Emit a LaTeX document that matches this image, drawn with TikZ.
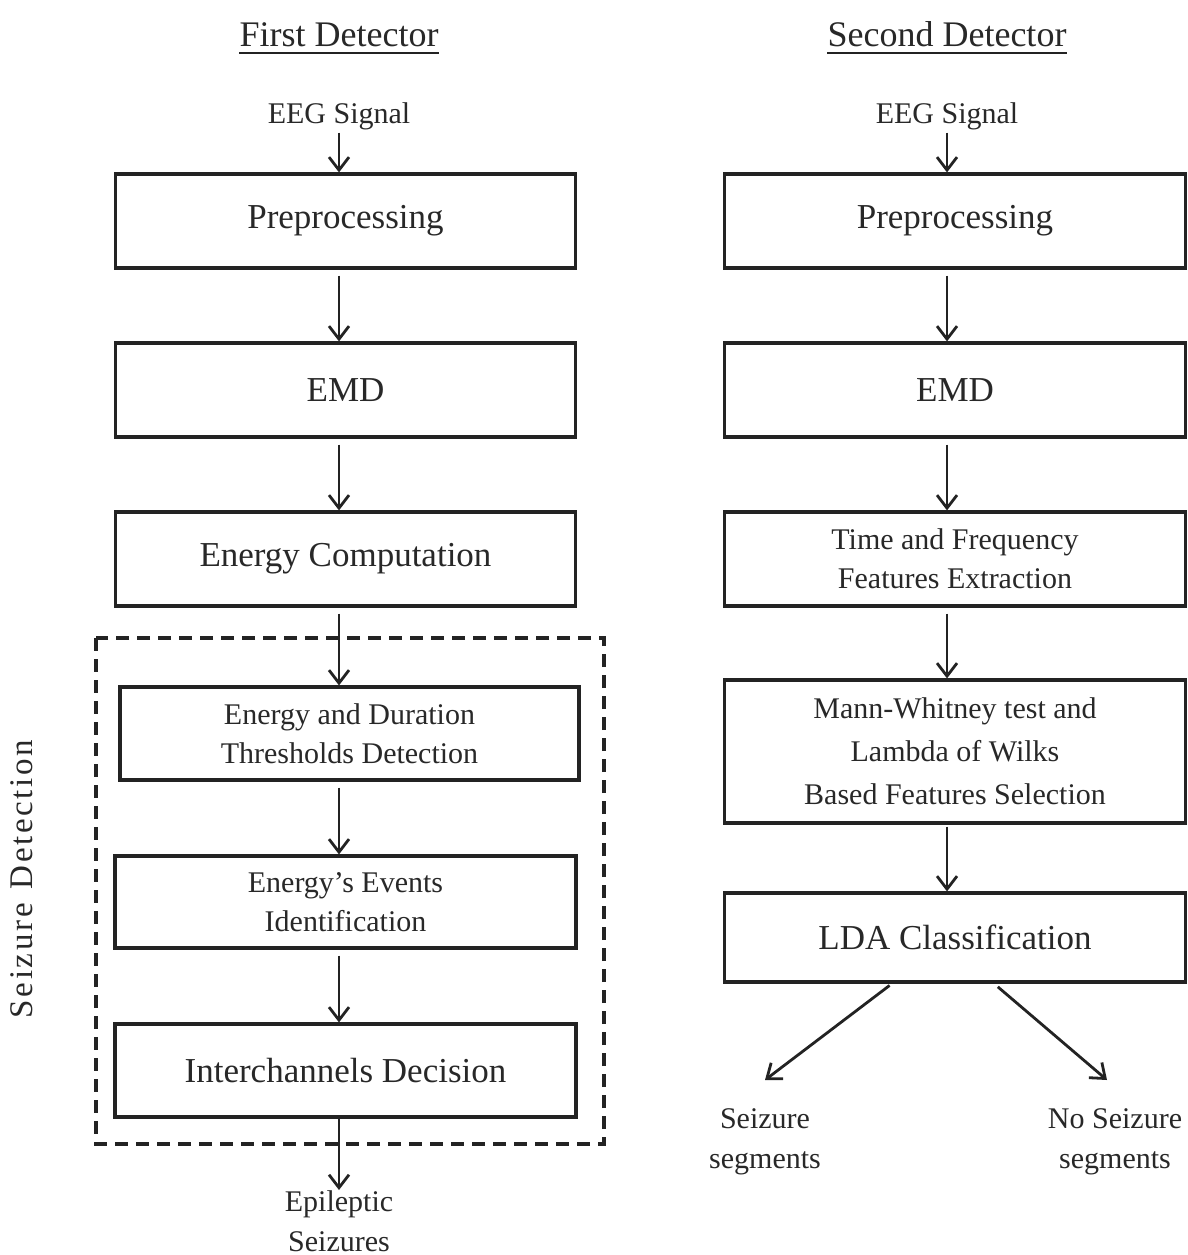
\documentclass[tikz,border=0pt]{standalone}
\usepackage{fontspec}
\setmainfont{Liberation Serif}
\usetikzlibrary{arrows.meta,calc}
\definecolor{ink}{RGB}{35,35,35}
\definecolor{txt}{RGB}{40,40,40}
\begin{document}
\begin{tikzpicture}[x=1pt,y=-1pt,
  box/.style={draw=ink,line width=3.2pt,inner sep=0pt,align=center,text=txt},
  bigtxt/.style={font=\fontsize{35}{40}\selectfont},
  smalltxt/.style={font=\fontsize{30}{39}\selectfont},
  arr/.style={draw=ink,line width=2.8pt,-{Straight Barb[length=13pt,width=20pt,line width=2.8pt]}},
  lbl/.style={inner sep=0pt,align=center,text=txt,font=\fontsize{30}{40}\selectfont},
  ttl/.style={inner sep=0pt,text=txt,font=\fontsize{36}{40}\selectfont,anchor=base},
  grp/.style={draw=ink,line width=3.2pt,dash pattern=on 13pt off 8pt},
]
\useasboundingbox (0,0) rectangle (1188,1255);

% arrow columns
\coordinate (ax) at (339,0);
\coordinate (bx) at (947,0);

% titles
\node[ttl] (t1) at (339,47) {First Detector};
\node[ttl] (t2) at (947,47) {Second Detector};
\draw[ink,line width=2.4pt] ([yshift=-6pt]t1.base west) -- ([yshift=-6pt]t1.base east);
\draw[ink,line width=2.4pt] ([yshift=-6pt]t2.base west) -- ([yshift=-6pt]t2.base east);

% inputs
\node[lbl,anchor=base] (in1) at (339,123) {EEG Signal};
\node[lbl,anchor=base] (in2) at (947,123) {EEG Signal};

% left column
\node[box,bigtxt,minimum width=460pt,minimum height=94pt] (p1) at (345.5,221) {Preprocessing};
\node[box,bigtxt,minimum width=460pt,minimum height=94pt] (e1) at (345.5,390) {EMD};
\node[box,bigtxt,minimum width=460pt,minimum height=94pt] (c1) at (345.5,559) {Energy Computation};
\draw[grp] (96,638) rectangle (604,1144);
\node[box,smalltxt,minimum width=459pt,minimum height=93pt] (d1) at (349.5,733.5) {Energy and Duration\\Thresholds Detection};
\node[box,smalltxt,minimum width=461pt,minimum height=92pt] (v1) at (345.5,902) {Energy’s Events\\Identification};
\node[box,bigtxt,minimum width=461pt,minimum height=93pt] (i1) at (345.5,1070.5) {Interchannels Decision};
\node[lbl,anchor=north] (ep) at (339,1190) {Epileptic\\Seizures};
\node[rotate=90,inner sep=0pt,text=txt,font=\fontsize{33}{36}\selectfont] (sd) at (22,879)
  {\addfontfeature{LetterSpace=8}Seizure\hspace{14pt}Detection};

% right column
\node[box,bigtxt,minimum width=461pt,minimum height=94pt] (p2) at (955,221) {Preprocessing};
\node[box,bigtxt,minimum width=461pt,minimum height=94pt] (e2) at (955,390) {EMD};
\node[box,smalltxt,minimum width=461pt,minimum height=94pt] (f2) at (955,559) {Time and Frequency\\Features Extraction};
\node[box,minimum width=461pt,minimum height=143pt,font=\fontsize{30}{43}\selectfont] (m2) at (955,751.5) {Mann-Whitney test and\\Lambda of Wilks\\Based Features Selection};
\node[box,bigtxt,minimum width=461pt,minimum height=89pt] (l2) at (955,937.5) {LDA Classification};
\node[lbl,anchor=north] (s2) at (765,1108) {Seizure\\segments};
\node[lbl,anchor=north] (n2) at (1115,1108) {No Seizure\\segments};
\coordinate (sa) at (892,0);
\coordinate (na) at (994,0);
\coordinate (se) at (765,1080);
\coordinate (ne) at (1107,1080);

% connectors left
\draw[arr,shorten <=3pt] (in1.south -| ax) -- (p1.north -| ax);
\draw[arr,shorten <=6pt] (p1.south -| ax) -- (e1.north -| ax);
\draw[arr,shorten <=6pt] (e1.south -| ax) -- (c1.north -| ax);
\draw[arr,shorten <=6pt] (c1.south -| ax) -- (d1.north -| ax);
\draw[arr,shorten <=6pt] (d1.south -| ax) -- (v1.north -| ax);
\draw[arr,shorten <=6pt] (v1.south -| ax) -- (i1.north -| ax);
\draw[arr] (i1.south -| ax) -- (ep.north -| ax);

% connectors right
\draw[arr,shorten <=3pt] (in2.south -| bx) -- (p2.north -| bx);
\draw[arr,shorten <=6pt] (p2.south -| bx) -- (e2.north -| bx);
\draw[arr,shorten <=6pt] (e2.south -| bx) -- (f2.north -| bx);
\draw[arr,shorten <=6pt] (f2.south -| bx) -- (m2.north -| bx);
\draw[arr,shorten <=2pt] (m2.south -| bx) -- (l2.north -| bx);
\draw[arr,shorten <=3pt] (l2.south -| sa) -- (se);
\draw[arr,shorten <=5pt] (l2.south -| na) -- (ne);
\end{tikzpicture}
\end{document}
